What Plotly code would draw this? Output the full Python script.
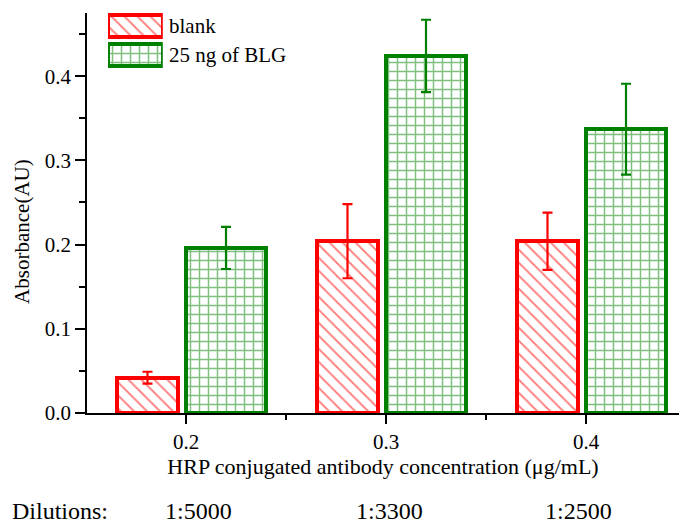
import plotly.graph_objects as go

# ---- data ----
concentrations = [0.2, 0.3, 0.4]
blank_values = [0.042, 0.204, 0.204]
blank_errors = [0.007, 0.044, 0.034]
blg_values = [0.196, 0.424, 0.337]
blg_errors = [0.025, 0.043, 0.054]
series_names = ["blank", "25 ng of BLG"]
dilution_labels = ["1:5000", "1:3300", "1:2500"]
y_ticks = [0.0, 0.1, 0.2, 0.3, 0.4]

RED = "#ff0000"
GREEN = "#008000"
FONT = "Liberation Serif, Times New Roman, serif"

red_marker = dict(color="white", line=dict(color=RED, width=4),
                  pattern=dict(shape="\\", fgcolor=RED, bgcolor="white", size=9.2, solidity=0.2))
green_marker = dict(color="white", line=dict(color=GREEN, width=4),
                    pattern=dict(shape="+", fgcolor=GREEN, bgcolor="white", size=9, solidity=0.3))

fig = go.Figure()

fig.add_trace(go.Bar(
    x=concentrations, y=blank_values, name=series_names[0],
    offset=-0.0345, width=0.0305, marker=red_marker,
    error_y=dict(type="data", array=blank_errors, color=RED, thickness=2.2, width=5),
    showlegend=False,
))
fig.add_trace(go.Bar(
    x=concentrations, y=blg_values, name=series_names[1],
    offset=0.0, width=0.04, marker=green_marker,
    error_y=dict(type="data", array=blg_errors, color=GREEN, thickness=2.2, width=5),
    showlegend=False,
))

# ---- legend swatches drawn on a small hidden axis ----
fig.add_trace(go.Bar(
    x=[1], y=[0], orientation="h", width=0.76, xaxis="x2", yaxis="y2",
    marker=red_marker, showlegend=False, hoverinfo="skip",
))
fig.add_trace(go.Bar(
    x=[1], y=[1], orientation="h", width=0.76, xaxis="x2", yaxis="y2",
    marker=green_marker, showlegend=False, hoverinfo="skip",
))

annotations = []
for i, nm in enumerate(series_names):
    annotations.append(dict(text=nm, xref="paper", yref="y2", x=0.135, y=i,
                            xanchor="left", yanchor="middle", showarrow=False,
                            font=dict(family=FONT, size=21, color="black")))

annotations.append(dict(text="Dilutions:", xref="paper", yref="paper", x=-0.130, y=-0.245,
                        xanchor="left", yanchor="middle", showarrow=False,
                        font=dict(family=FONT, size=24, color="black")))
label_shift = [0.006, 0.0015, -0.004]
for c, lab, s in zip(concentrations, dilution_labels, label_shift):
    annotations.append(dict(text=lab, xref="x", yref="paper", x=c + s, y=-0.245,
                            xanchor="center", yanchor="middle", showarrow=False,
                            font=dict(family=FONT, size=24, color="black")))

annotations.append(dict(text="Absorbance(AU)", xref="paper", yref="paper", x=-0.110, y=0.455,
                        xanchor="center", yanchor="middle", textangle=-90, showarrow=False,
                        font=dict(family=FONT, size=21, color="black")))

fig.update_layout(
    width=680, height=525,
    margin=dict(l=87, r=1, t=13, b=112),
    paper_bgcolor="white", plot_bgcolor="white",
    font=dict(family=FONT, size=20, color="black"),
    annotations=annotations,
    xaxis=dict(range=[0.1505, 0.4465], tickvals=concentrations, ticktext=[f"{v:.1f}" for v in concentrations],
               showline=True, linecolor="black", linewidth=1.5, showgrid=False, zeroline=False,
               ticks="outside", ticklen=9, tickwidth=1.5, tickcolor="black",
               minor=dict(dtick=0.05, tick0=0.15, ticks="outside", ticklen=5, tickwidth=1.5, tickcolor="black"),
               tickfont=dict(family=FONT, size=21),
               title=dict(text="HRP conjugated antibody concentration (μg/mL)", standoff=6,
                          font=dict(family=FONT, size=22))),
    yaxis=dict(range=[0, 0.475], tickvals=y_ticks, ticktext=[f"{v:.1f}" for v in y_ticks],
               showline=True, linecolor="black", linewidth=1.5, showgrid=False, zeroline=False,
               ticks="outside", ticklen=10, tickwidth=1.5, tickcolor="black",
               minor=dict(dtick=0.05, tick0=0.05, ticks="outside", ticklen=6, tickwidth=1.5, tickcolor="black"),
               tickfont=dict(family=FONT, size=21)),
    xaxis2=dict(domain=[0.0355, 0.128], range=[0, 1], visible=False, anchor="y2", fixedrange=True),
    yaxis2=dict(domain=[0.85, 1.0], range=[1.621, -0.448], visible=False, anchor="x2", fixedrange=True),
    bargap=0,
)

fig.write_html("out.html")
